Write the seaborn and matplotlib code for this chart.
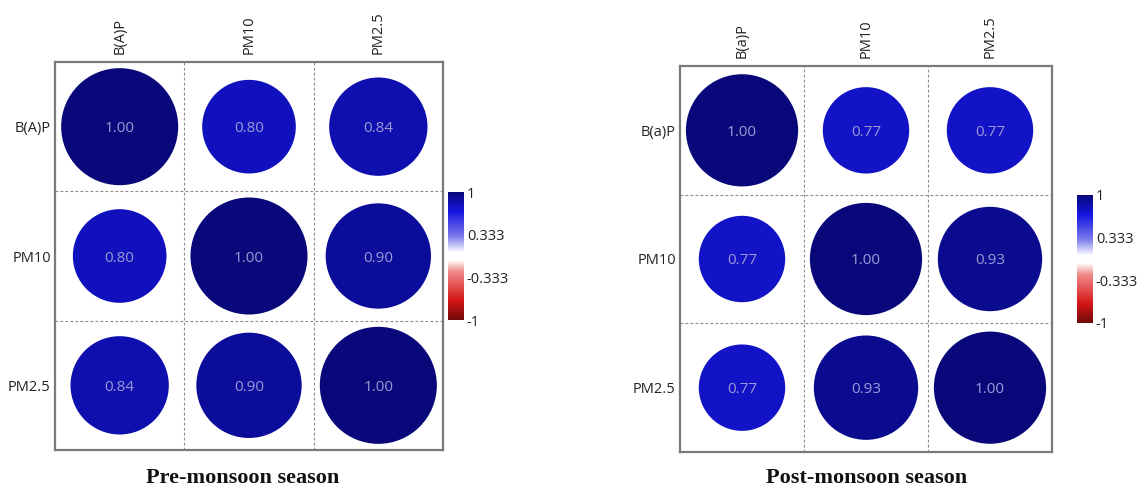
import numpy as np
import pandas as pd
import matplotlib
matplotlib.use("Agg")
import matplotlib.pyplot as plt
from matplotlib.colors import LinearSegmentedColormap, Normalize
from matplotlib.cm import ScalarMappable
import seaborn as sns

# Variables and correlation coefficients for each season
pre_labels = ["B(A)P", "PM10", "PM2.5"]
post_labels = ["B(a)P", "PM10", "PM2.5"]
pre_corr = [
    [1.00, 0.80, 0.84],
    [0.80, 1.00, 0.90],
    [0.84, 0.90, 1.00],
]
post_corr = [
    [1.00, 0.77, 0.77],
    [0.77, 1.00, 0.93],
    [0.77, 0.93, 1.00],
]
cbar_ticks = [-1, -0.333, 0.333, 1]
cbar_ticklabels = ["-1", "-0.333", "0.333", "1"]
titles = ["Pre-monsoon season", "Post-monsoon season"]

sns.set_theme(style="white")
plt.rcParams["font.family"] = ["Open Sans", "DejaVu Sans"]

# Diverging red-white-blue scale from -1 to 1
cmap = LinearSegmentedColormap.from_list(
    "rwb",
    [
        (0.00, "#6e0a0a"),
        (0.15, "#d41414"),
        (0.38, "#f08a8a"),
        (0.47, "#ffffff"),
        (0.53, "#ffffff"),
        (0.66, "#7878ec"),
        (0.85, "#1515e0"),
        (1.00, "#08087a"),
    ],
)
norm = Normalize(-1, 1)

DPI = 100
fig = plt.figure(figsize=(11.44, 4.93), dpi=DPI)
W, H = 1144, 493


def px_rect(x0, y0, x1, y1):
    return [x0 / W, (H - y1) / H, (x1 - x0) / W, (y1 - y0) / H]


def draw_panel(ax, cax, labels, corr, title, title_x):
    n = len(labels)
    rows = []
    for i in range(n):
        for j in range(n):
            rows.append((j, i, corr[i][j]))
    df = pd.DataFrame(rows, columns=["xi", "yi", "r"])
    df["area"] = df["r"] ** 2

    bbox = ax.get_window_extent()
    cell_px = min(bbox.width / n, bbox.height / n)
    diam_pt = 0.905 * cell_px * 72 / DPI
    smax = diam_pt ** 2

    sns.scatterplot(
        data=df, x="xi", y="yi", hue="r", palette=cmap, hue_norm=(-1, 1),
        size="area", sizes=(0, smax), size_norm=(0, 1),
        legend=False, linewidth=0, ax=ax,
    )
    for _, row in df.iterrows():
        ax.text(row["xi"], row["yi"], f"{row['r']:.2f}", ha="center",
                va="center_baseline", color="#9a9ad6", fontsize=11)

    for k in range(1, n):
        ax.axvline(k - 0.5, color="#8a8a8a", ls=(0, (2.5, 2)), lw=0.8, zorder=0)
        ax.axhline(k - 0.5, color="#8a8a8a", ls=(0, (2.5, 2)), lw=0.8, zorder=0)

    ax.set_xlim(-0.5, n - 0.5)
    ax.set_ylim(n - 0.5, -0.5)
    ax.set_xlabel("")
    ax.set_ylabel("")
    ax.xaxis.tick_top()
    ax.set_xticks(range(n))
    ax.set_xticklabels(labels, rotation=90, fontsize=10.5, color="#222222")
    ax.set_yticks(range(n))
    ax.set_yticklabels(labels, fontsize=10.5, color="#222222")
    ax.tick_params(axis="x", length=0, pad=6)
    ax.tick_params(axis="y", length=0, pad=3)
    for sp in ax.spines.values():
        sp.set_visible(True)
        sp.set_color("#7a7a7a")
        sp.set_linewidth(1.6)

    cb = fig.colorbar(ScalarMappable(norm=norm, cmap=cmap), cax=cax)
    cb.set_ticks(cbar_ticks)
    cb.set_ticklabels(cbar_ticklabels)
    cb.outline.set_visible(False)
    cax.tick_params(length=0, pad=2, labelsize=10.5, labelcolor="#222222")

    fig.text(title_x / W, (H - 478) / H, title, ha="center", va="center",
             fontfamily="Liberation Serif", fontweight="bold", fontsize=16,
             color="#111111")


ax1 = fig.add_axes(px_rect(55, 62, 443, 450))
cax1 = fig.add_axes(px_rect(448, 192, 464, 320))
ax2 = fig.add_axes(px_rect(680, 66, 1052, 452))
cax2 = fig.add_axes(px_rect(1077, 195, 1093, 323))

draw_panel(ax1, cax1, pre_labels, pre_corr, titles[0], 243)
draw_panel(ax2, cax2, post_labels, post_corr, titles[1], 867)

fig.savefig("out.png", dpi=DPI, facecolor="white")
